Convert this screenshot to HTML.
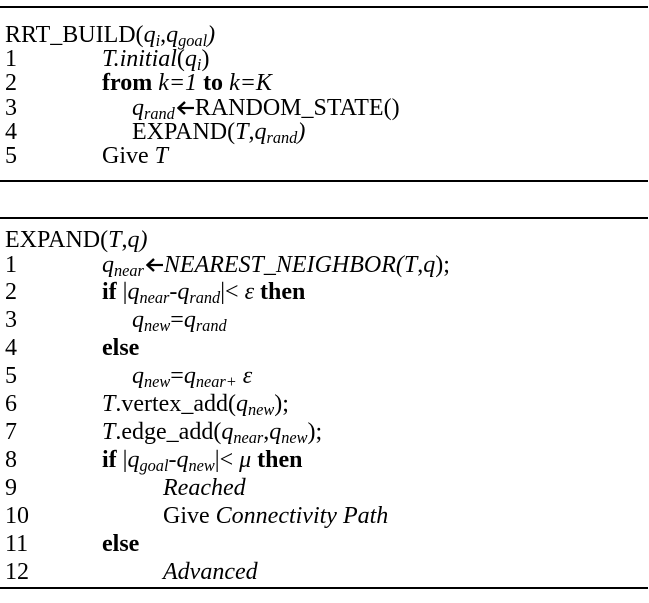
<!DOCTYPE html>
<html><head><meta charset="utf-8"><style>
body{margin:0;background:#fff;width:649px;height:603px;overflow:hidden;position:relative;font-family:"Liberation Serif",serif;font-size:24px;color:#000}
.rule{position:absolute;left:0;width:648px;height:2px;background:#000}
.r{position:absolute;left:5px;height:28px;line-height:28px;white-space:nowrap}
.c{position:absolute;top:0;white-space:nowrap}
sub{font-size:0.68em;vertical-align:-0.25em;line-height:0}
i{font-style:italic}
b{font-weight:bold}
.arr{display:inline-block;width:17px;height:14px;vertical-align:0px;margin:0 1px 0 2px}
</style></head><body>
<div class="rule" style="top:6px"></div>
<div class="r" style="top:21px">RRT_BUILD(<i>q<sub>i</sub></i>,<i>q<sub>goal</sub>)</i></div>
<div class="r" style="top:45px">1<span class="c" style="left:97px"><i>T.initial</i>(<i>q<sub>i</sub></i>)</span></div>
<div class="r" style="top:69px">2<span class="c" style="left:97px"><b>from</b> <i>k=1</i> <b>to</b> <i>k=K</i></span></div>
<div class="r" style="top:94px">3<span class="c" style="left:127px"><i>q<sub>rand</sub></i><svg class="arr" viewBox="0 0 17 14"><path d="M1 7H17" stroke="#000" stroke-width="2.2"/><path d="M8 1L1.5 7L8 13" fill="none" stroke="#000" stroke-width="2.4"/></svg>RANDOM_STATE()</span></div>
<div class="r" style="top:118px">4<span class="c" style="left:127px">EXPAND(<i>T</i>,<i>q<sub>rand</sub>)</i></span></div>
<div class="r" style="top:142px">5<span class="c" style="left:97px">Give <i>T</i></span></div>
<div class="rule" style="top:180px"></div>

<div class="rule" style="top:217px"></div>
<div class="r" style="top:226px">EXPAND(<i>T</i>,<i>q)</i></div>
<div class="r" style="top:251px">1<span class="c" style="left:97px"><i>q<sub>near</sub></i><svg class="arr" viewBox="0 0 17 14"><path d="M1 7H17" stroke="#000" stroke-width="2.2"/><path d="M8 1L1.5 7L8 13" fill="none" stroke="#000" stroke-width="2.4"/></svg><i>NEAREST_NEIGHBOR(T</i>,<i>q</i>);</span></div>
<div class="r" style="top:278px">2<span class="c" style="left:97px"><b>if</b> |<i>q<sub>near</sub></i>-<i>q<sub>rand</sub></i>|&lt; <i>ε</i> <b>then</b></span></div>
<div class="r" style="top:306px">3<span class="c" style="left:127px"><i>q<sub>new</sub></i>=<i>q<sub>rand</sub></i></span></div>
<div class="r" style="top:334px">4<span class="c" style="left:97px"><b>else</b></span></div>
<div class="r" style="top:362px">5<span class="c" style="left:127px"><i>q<sub>new</sub></i>=<i>q<sub>near+</sub></i> <i>ε</i></span></div>
<div class="r" style="top:390px">6<span class="c" style="left:97px"><i>T</i>.vertex_add(<i>q<sub>new</sub></i>);</span></div>
<div class="r" style="top:418px">7<span class="c" style="left:97px"><i>T</i>.edge_add(<i>q<sub>near</sub></i>,<i>q<sub>new</sub></i>);</span></div>
<div class="r" style="top:446px">8<span class="c" style="left:97px"><b>if</b> |<i>q<sub>goal</sub></i>-<i>q<sub>new</sub></i>|&lt; <i>μ</i> <b>then</b></span></div>
<div class="r" style="top:474px">9<span class="c" style="left:158px"><i>Reached</i></span></div>
<div class="r" style="top:502px">10<span class="c" style="left:158px">Give <i>Connectivity Path</i></span></div>
<div class="r" style="top:530px">11<span class="c" style="left:97px"><b>else</b></span></div>
<div class="r" style="top:558px">12<span class="c" style="left:158px"><i>Advanced</i></span></div>
<div class="rule" style="top:587px"></div>
</body></html>
